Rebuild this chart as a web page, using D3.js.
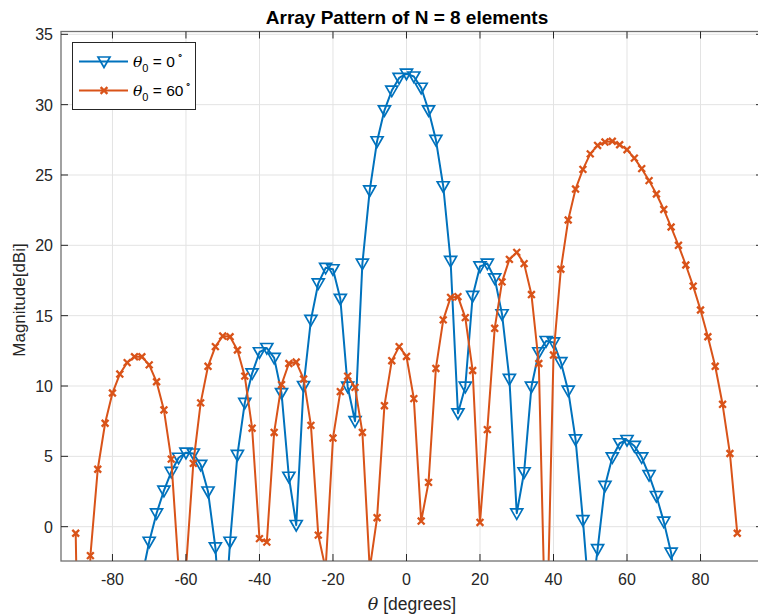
<!DOCTYPE html>
<html>
<head>
<meta charset="utf-8">
<script src="https://cdn.jsdelivr.net/npm/d3@7"></script>
<style>
  body { margin: 0; background: #fff; overflow: hidden; }
  svg { font-family: "Liberation Sans", Arial, sans-serif; }
</style>
</head>
<body>
<svg id="chart" width="758" height="616"></svg>
<script>
// angles in degrees (sample grid)
var angles = [-90,-88,-86,-84,-82,-80,-78,-76,-74,-72,-70,-68,-66,-64,-62,-60,-58,-56,-54,-52,
  -50,-48,-46,-44,-42,-40,-38,-36,-34,-32,-30,-28,-26,-24,-22,-20,-18,-16,-14,-12,
  -10,-8,-6,-4,-2,0,2,4,6,8,10,12,14,16,18,20,22,24,26,28,
  30,32,34,36,38,40,42,44,46,48,50,52,54,56,58,60,62,64,66,68,
  70,72,74,76,78,80,82,84,86,88,90]

// theta0 = 0 deg (values below the axis that can't be read are null)
var steer0 = [null,null,null,null,null,null,null,null,null,-3.6,-1.07,0.95,2.56,3.9,4.9,5.26,5.2,4.4,2.5,-1.47,
  -9,-1.07,5.1,8.8,10.9,12.4,12.7,12.0,9.5,3.55,0.12,10.0,14.7,17.3,18.4,18.3,16.2,9.95,7.5,18.7,
  23.9,27.4,29.6,31.0,31.9,32.2,32.0,31.2,29.6,27.5,24.2,18.9,8.06,9.95,16.4,18.5,18.7,17.65,15.1,10.5,
  0.95,3.87,9.95,12.4,13.2,13.1,11.7,9.67,6.2,0.47,-6,-1.6,2.9,4.93,5.93,6.16,5.74,4.93,3.67,2.18,
  0.36,-1.85,-6,null,null,null,null,null,null,null,null]

// theta0 = 60 deg
var steer60 = [-0.47,-30,-2.06,4.08,7.35,9.5,10.85,11.66,12.08,12.08,11.5,10.3,8.3,4.8,-3,-3,4.5,8.8,11.4,12.8,
  13.55,13.5,12.56,10.7,7.0,-0.85,-1.1,6.7,10.1,11.6,11.7,10.5,7.2,-0.6,-3,6.3,9.6,10.7,9.9,6.7,
  -3,0.64,8.6,11.8,12.8,12.1,9.1,0.4,3.15,11.25,14.7,16.3,16.35,14.86,11.1,0.3,6.9,14.1,17.4,19.0,
  19.5,18.7,16.5,11.6,-10,12.2,18.3,21.8,24.0,25.4,26.5,27.1,27.34,27.4,27.15,26.8,26.2,25.45,24.6,23.65,
  22.55,21.3,20.0,18.6,17.1,15.4,13.5,11.4,8.7,5.2,-0.47]

var xTicks = [-80,-60,-40,-20,0,20,40,60,80]
var yTicks = [0,5,10,15,20,25,30,35]

var blue = '#0072BD', orange = '#D95319', axisCol = '#262626', boxCol = '#707070'

var svg = d3.select('#chart')
// right edge of the axes sits just past the picture edge
var pL = 61, pR = 763, pT = 31.5, pB = 561

var x = d3.scaleLinear().domain([-94.0, 97.0]).range([pL, pR])
var y = d3.scaleLinear().domain([-2.44, 35.2]).range([pB, pT])

// grid
var grid = svg.append('g')
grid.selectAll('line.gx').data(xTicks).enter().append('line')
  .attr('x1', d => x(d)).attr('x2', d => x(d)).attr('y1', pT).attr('y2', pB)
  .attr('stroke', '#e3e3e3').attr('stroke-width', 1)
grid.selectAll('line.gy').data(yTicks).enter().append('line')
  .attr('y1', d => y(d)).attr('y2', d => y(d)).attr('x1', pL).attr('x2', pR)
  .attr('stroke', '#e3e3e3').attr('stroke-width', 1)

svg.append('clipPath').attr('id', 'clip').append('rect')
  .attr('x', pL).attr('y', pT).attr('width', pR - pL).attr('height', pB - pT)

var series = [
  { vals: steer0, color: blue, marker: 'tri' },
  { vals: steer60, color: orange, marker: 'x' }
]

var line = d3.line()
  .defined(d => d.v !== null)
  .x(d => x(d.a)).y(d => y(d.v))

var triPath = 'M-6,-4.5 L6,-4.5 L0,6 Z'
var xPath = 'M-3.4,-3.4 L3.4,3.4 M-3.4,3.4 L3.4,-3.4'

series.forEach(function(s) {
  var pts = angles.map((a, i) => ({ a: a, v: s.vals[i] }))
  svg.append('path').datum(pts)
    .attr('clip-path', 'url(#clip)')
    .attr('d', line)
    .attr('fill', 'none').attr('stroke', s.color).attr('stroke-width', 2)
    .attr('stroke-linejoin', 'round')
  var vis = pts.filter(d => d.v !== null && d.v >= -2.44 && d.v <= 35.2)
  svg.append('g').selectAll('path').data(vis).enter().append('path')
    .attr('transform', d => 'translate(' + x(d.a) + ',' + y(d.v) + ')')
    .attr('d', s.marker === 'tri' ? triPath : xPath)
    .attr('fill', 'none').attr('stroke', s.color)
    .attr('stroke-width', s.marker === 'tri' ? 1.7 : 2.3)
})

// axes box + ticks
svg.append('rect').attr('x', pL).attr('y', pT).attr('width', pR - pL).attr('height', pB - pT)
  .attr('fill', 'none').attr('stroke', boxCol).attr('stroke-width', 1.3)

var tl = 7
xTicks.forEach(function(t) {
  svg.append('line').attr('x1', x(t)).attr('x2', x(t)).attr('y1', pB).attr('y2', pB - tl).attr('stroke', axisCol)
  svg.append('line').attr('x1', x(t)).attr('x2', x(t)).attr('y1', pT).attr('y2', pT + tl).attr('stroke', axisCol)
  svg.append('text').attr('x', x(t)).attr('y', 585).attr('text-anchor', 'middle')
    .attr('font-size', 16).attr('fill', axisCol).text(t)
})
yTicks.forEach(function(t) {
  svg.append('line').attr('y1', y(t)).attr('y2', y(t)).attr('x1', pL).attr('x2', pL + tl).attr('stroke', axisCol)
  svg.append('line').attr('y1', y(t)).attr('y2', y(t)).attr('x1', pR).attr('x2', pR - tl).attr('stroke', axisCol)
  svg.append('text').attr('x', 53).attr('y', y(t) + 6).attr('text-anchor', 'end')
    .attr('font-size', 16).attr('fill', axisCol).text(t)
})

// title and labels
svg.append('text').attr('x', 407).attr('y', 24).attr('text-anchor', 'middle')
  .attr('font-size', 19).attr('font-weight', 'bold').attr('fill', '#000')
  .text('Array Pattern of N = 8 elements')

var xl = svg.append('text').attr('x', 412).attr('y', 610).attr('text-anchor', 'middle')
  .attr('font-size', 17.5).attr('fill', axisCol)
xl.append('tspan').attr('font-style', 'italic').attr('font-family', '"DejaVu Serif", serif').text('θ')
xl.append('tspan').text(' [degrees]')

svg.append('text').attr('transform', 'translate(25,300) rotate(-90)')
  .attr('text-anchor', 'middle').attr('font-size', 17).attr('fill', axisCol)
  .text('Magnitude[dBi]')

// legend
var lg = svg.append('g')
lg.append('rect').attr('x', 72.5).attr('y', 42.5).attr('width', 123).attr('height', 67)
  .attr('fill', '#fff').attr('stroke', axisCol).attr('stroke-width', 1)
var labels = ['0', '60']
series.forEach(function(s, i) {
  var ly = 61.5 + i * 29
  lg.append('line').attr('x1', 79).attr('x2', 128).attr('y1', ly).attr('y2', ly)
    .attr('stroke', s.color).attr('stroke-width', 2)
  lg.append('path').attr('transform', 'translate(104,' + ly + ')')
    .attr('d', s.marker === 'tri' ? triPath : xPath)
    .attr('fill', 'none').attr('stroke', s.color).attr('stroke-width', s.marker === 'tri' ? 1.7 : 2.3)
  var t = lg.append('text').attr('x', 133).attr('y', ly + 5).attr('font-size', 15.5).attr('fill', '#000')
  t.append('tspan').attr('font-style', 'italic').attr('font-family', '"DejaVu Serif", serif').text('θ')
  t.append('tspan').attr('font-size', 11).attr('dy', 5).text('0')
  t.append('tspan').attr('dy', -5).text(' = ' + labels[i])
  t.append('tspan').attr('font-size', 10).attr('dy', -9).attr('dx', 2).text('∘')
})
</script>
</body>
</html>
